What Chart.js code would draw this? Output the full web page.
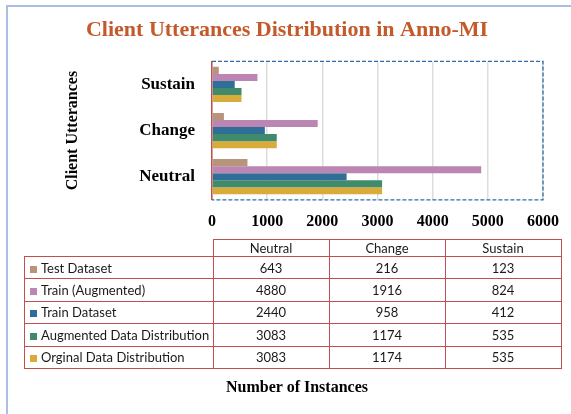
<!DOCTYPE html>
<html>
<head>
<meta charset="utf-8">
<title>Client Utterances Distribution in Anno-MI</title>
<script src="https://cdn.jsdelivr.net/npm/chart.js@4"></script>
<style>
  html, body { margin: 0; padding: 0; background: #fff; }
  #wrap { position: relative; width: 571px; height: 414px; overflow: hidden; }
  #frame { position: absolute; left: 6px; top: 5px; width: 600px; height: 450px; border-left: 2px solid #ABBFE3; border-top: 2px solid #ABBFE3; }
  #my-chart { position: absolute; left: 0; top: 0; }
  #data-table { position: absolute; left: 24px; top: 239px; border-collapse: collapse; table-layout: fixed;
    font-family: Lato, 'Noto Sans', sans-serif; font-size: 13px; color: #1a1a1a; }
  #data-table td { border: 1px solid #C0504D; padding: 0; text-align: center; white-space: nowrap; }
  #data-table tr.head td { height: 16px; }
  #data-table tr.body td { height: 21.4px; }
  #data-table td.blank { border-top: none; border-left: none; }
  #data-table td.name { text-align: left; padding-left: 5px; }
  .key { display: inline-block; width: 7px; height: 7px; margin-right: 4px; vertical-align: 0px; }
  #x-title { position: absolute; left: 197px; width: 200px; top: 378px; text-align: center;
    font-family: 'Liberation Serif', 'Times New Roman', serif; font-weight: bold; font-size: 16px; color: #000; }
</style>
</head>
<body>
<div id="wrap">
  <div id="frame"></div>
  <canvas id="my-chart" width="571" height="414"></canvas>
  <table id="data-table"></table>
  <div id="x-title">Number of Instances</div>
</div>
<script>
'use strict';

// ***** DATA *****

let categories = ['Neutral', 'Change', 'Sustain'];
let seriesNames = ['Test Dataset', 'Train (Augmented)', 'Train Dataset', 'Augmented Data Distribution', 'Orginal Data Distribution'];
let seriesColors = ['#B8957A', '#BB86B3', '#2F6E96', '#3F8B6C', '#D9AB3A'];

let testDataset = [643, 216, 123];
let trainAugmented = [4880, 1916, 824];
let trainDataset = [2440, 958, 412];
let augmentedDist = [3083, 1174, 535];
let originalDist = [3083, 1174, 535];

let xTickValues = [0, 1000, 2000, 3000, 4000, 5000, 6000];

let seriesValues = [testDataset, trainAugmented, trainDataset, augmentedDist, originalDist];

// ***** DOM WINDOWS *****

let ctx = document.getElementById('my-chart');
let dataTable = document.getElementById('data-table');

let serif = "'Liberation Serif', 'Times New Roman', serif";

// ***** HELPER FUNCTIONS *****

function renderTable() {
    let head = document.createElement('tr');
    head.className = 'head';
    let blank = document.createElement('td');
    blank.className = 'blank';
    blank.style.width = '188px';
    head.appendChild(blank);
    let widths = ['115px', '115px', '115px'];
    for (let i = 0; i < categories.length; i++) {
        let th = document.createElement('td');
        th.style.width = widths[i];
        th.textContent = categories[i];
        head.appendChild(th);
    }
    dataTable.appendChild(head);

    for (let s = 0; s < seriesNames.length; s++) {
        let row = document.createElement('tr');
        row.className = 'body';
        let nameCell = document.createElement('td');
        nameCell.className = 'name';
        let key = document.createElement('span');
        key.className = 'key';
        key.style.background = seriesColors[s];
        nameCell.appendChild(key);
        nameCell.appendChild(document.createTextNode(seriesNames[s]));
        row.appendChild(nameCell);
        for (let c = 0; c < categories.length; c++) {
            let cell = document.createElement('td');
            cell.textContent = seriesValues[s][c];
            row.appendChild(cell);
        }
        dataTable.appendChild(row);
    }
}

// dashed frame round the plot area (left side is the red axis line)
let plotFrame = {
    id: 'plotFrame',
    afterDraw(chart) {
        let a = chart.chartArea;
        let c = chart.ctx;
        c.save();
        c.strokeStyle = '#2E6DA4';
        c.lineWidth = 1.3;
        c.setLineDash([4, 2]);
        c.beginPath();
        c.moveTo(a.left, a.top);
        c.lineTo(a.right, a.top);
        c.lineTo(a.right, a.bottom);
        c.lineTo(a.left, a.bottom);
        c.stroke();
        c.restore();
    }
};

function renderChart() {
    let datasets = [];
    for (let i = 0; i < seriesNames.length; i++) {
        datasets.push({
            label: seriesNames[i],
            data: seriesValues[i],
            backgroundColor: seriesColors[i],
            borderWidth: 0
        });
    }

    let chartObj = {
        type: 'bar',
        data: {
            labels: categories,
            datasets: datasets
        },
        options: {
            indexAxis: 'y',
            responsive: false,
            animation: false,
            layout: { padding: { left: 30, right: 27, top: 0, bottom: 171 } },
            datasets: { bar: { categoryPercentage: 0.764, barPercentage: 1 } },
            plugins: {
                legend: { display: false },
                tooltip: { enabled: false },
                title: {
                    display: true,
                    text: 'Client Utterances Distribution in Anno-MI',
                    color: '#C4592C',
                    font: { family: serif, size: 22, weight: 'bold' },
                    padding: { top: 17, bottom: 18 }
                }
            },
            scales: {
                x: {
                    min: 0,
                    max: 6000,
                    afterBuildTicks: (scale) => {
                        scale.ticks = xTickValues.map(v => ({ value: v }));
                    },
                    grid: { color: '#DDDDDD', lineWidth: 1.5, drawTicks: false },
                    border: { display: false },
                    ticks: {
                        padding: 12,
                        color: '#000',
                        font: { family: serif, size: 16, weight: 'bold' },
                        callback: (v) => String(v)
                    }
                },
                y: {
                    reverse: true,
                    grid: { display: false },
                    border: { color: '#C0504D', width: 1.5 },
                    ticks: { padding: 9, color: '#000', font: { family: serif, size: 17, weight: 'bold' } },
                    title: {
                        display: true,
                        text: 'Client Utterances',
                        color: '#000',
                        font: { family: serif, size: 16, weight: 'bold' },
                        padding: { top: 33, bottom: 0 }
                    },
                    afterFit: (scale) => { scale.width = 182; }
                }
            }
        },
        plugins: [plotFrame]
    };

    new Chart(ctx, chartObj);
}

// ***** EXECUTABLE CODE *****

renderTable();
renderChart();
</script>
</body>
</html>
